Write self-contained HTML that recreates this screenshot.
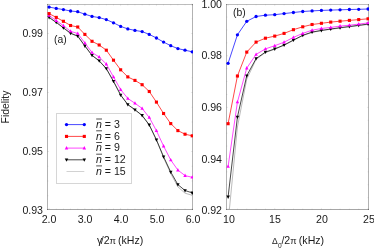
<!DOCTYPE html>
<html><head><meta charset="utf-8"><title>Fidelity</title>
<style>
html,body{margin:0;padding:0;background:#fff;}
body{width:374px;height:249px;position:relative;overflow:hidden;font-family:"Liberation Sans",sans-serif;font-size:10.6px;color:#1a1a1a;}
.t{will-change:transform;position:absolute;white-space:nowrap;line-height:12px;height:12px;}
.r{text-align:right;}
.c{text-align:center;}
i{font-style:italic;}
</style></head><body>
<svg width="374" height="249" viewBox="0 0 374 249" style="position:absolute;left:0;top:0">
<defs><clipPath id="ca"><rect x="47" y="4" width="146" height="206"/></clipPath><clipPath id="cb"><rect x="226" y="4" width="143" height="206"/></clipPath></defs>
<path d="M47.5 4.0V210.0M192.5 4.0V210.0" stroke="#000" stroke-opacity="0.3" stroke-width="1" fill="none"/><path d="M47.0 4.5H193.0" stroke="#000" stroke-opacity="0.26" stroke-width="1" fill="none"/><path d="M47.0 209.5H193.0" stroke="#000" stroke-opacity="0.35" stroke-width="1" fill="none"/>
<path d="M226.5 4.0V210.0M368.5 4.0V210.0" stroke="#000" stroke-opacity="0.3" stroke-width="1" fill="none"/><path d="M226.0 4.5H369.0" stroke="#000" stroke-opacity="0.26" stroke-width="1" fill="none"/><path d="M226.0 209.5H369.0" stroke="#000" stroke-opacity="0.35" stroke-width="1" fill="none"/>
<g stroke="#000" stroke-width="0.6" fill="none" opacity="0.13"><path d="M49.10 209.50v-1.60M49.10 4.50v1.60"/><path d="M56.26 209.50v-1.00M56.26 4.50v1.00"/><path d="M63.41 209.50v-1.00M63.41 4.50v1.00"/><path d="M70.56 209.50v-1.00M70.56 4.50v1.00"/><path d="M77.72 209.50v-1.00M77.72 4.50v1.00"/><path d="M84.88 209.50v-1.60M84.88 4.50v1.60"/><path d="M92.03 209.50v-1.00M92.03 4.50v1.00"/><path d="M99.19 209.50v-1.00M99.19 4.50v1.00"/><path d="M106.34 209.50v-1.00M106.34 4.50v1.00"/><path d="M113.50 209.50v-1.00M113.50 4.50v1.00"/><path d="M120.65 209.50v-1.60M120.65 4.50v1.60"/><path d="M127.81 209.50v-1.00M127.81 4.50v1.00"/><path d="M134.96 209.50v-1.00M134.96 4.50v1.00"/><path d="M142.12 209.50v-1.00M142.12 4.50v1.00"/><path d="M149.27 209.50v-1.00M149.27 4.50v1.00"/><path d="M156.43 209.50v-1.60M156.43 4.50v1.60"/><path d="M163.58 209.50v-1.00M163.58 4.50v1.00"/><path d="M170.74 209.50v-1.00M170.74 4.50v1.00"/><path d="M177.89 209.50v-1.00M177.89 4.50v1.00"/><path d="M185.04 209.50v-1.00M185.04 4.50v1.00"/><path d="M192.20 209.50v-1.60M192.20 4.50v1.60"/><path d="M47.50 195.75h1.00M192.50 195.75h-1.00"/><path d="M47.50 181.00h1.00M192.50 181.00h-1.00"/><path d="M47.50 166.25h1.00M192.50 166.25h-1.00"/><path d="M47.50 151.50h1.60M192.50 151.50h-1.60"/><path d="M47.50 136.75h1.00M192.50 136.75h-1.00"/><path d="M47.50 122.00h1.00M192.50 122.00h-1.00"/><path d="M47.50 107.25h1.00M192.50 107.25h-1.00"/><path d="M47.50 92.50h1.60M192.50 92.50h-1.60"/><path d="M47.50 77.75h1.00M192.50 77.75h-1.00"/><path d="M47.50 63.00h1.00M192.50 63.00h-1.00"/><path d="M47.50 48.25h1.00M192.50 48.25h-1.00"/><path d="M47.50 33.50h1.60M192.50 33.50h-1.60"/><path d="M47.50 18.75h1.00M192.50 18.75h-1.00"/><path d="M47.50 4.00h1.00M192.50 4.00h-1.00"/><path d="M228.10 209.50v-1.60M228.10 4.50v1.60"/><path d="M237.43 209.50v-1.00M237.43 4.50v1.00"/><path d="M246.76 209.50v-1.00M246.76 4.50v1.00"/><path d="M256.09 209.50v-1.00M256.09 4.50v1.00"/><path d="M265.42 209.50v-1.00M265.42 4.50v1.00"/><path d="M274.75 209.50v-1.60M274.75 4.50v1.60"/><path d="M284.08 209.50v-1.00M284.08 4.50v1.00"/><path d="M293.41 209.50v-1.00M293.41 4.50v1.00"/><path d="M302.74 209.50v-1.00M302.74 4.50v1.00"/><path d="M312.07 209.50v-1.00M312.07 4.50v1.00"/><path d="M321.40 209.50v-1.60M321.40 4.50v1.60"/><path d="M330.73 209.50v-1.00M330.73 4.50v1.00"/><path d="M340.06 209.50v-1.00M340.06 4.50v1.00"/><path d="M349.39 209.50v-1.00M349.39 4.50v1.00"/><path d="M358.72 209.50v-1.00M358.72 4.50v1.00"/><path d="M368.05 209.50v-1.60M368.05 4.50v1.60"/><path d="M226.50 197.65h1.00M368.50 197.65h-1.00"/><path d="M226.50 184.75h1.00M368.50 184.75h-1.00"/><path d="M226.50 171.85h1.00M368.50 171.85h-1.00"/><path d="M226.50 158.95h1.60M368.50 158.95h-1.60"/><path d="M226.50 146.05h1.00M368.50 146.05h-1.00"/><path d="M226.50 133.15h1.00M368.50 133.15h-1.00"/><path d="M226.50 120.25h1.00M368.50 120.25h-1.00"/><path d="M226.50 107.35h1.60M368.50 107.35h-1.60"/><path d="M226.50 94.45h1.00M368.50 94.45h-1.00"/><path d="M226.50 81.55h1.00M368.50 81.55h-1.00"/><path d="M226.50 68.65h1.00M368.50 68.65h-1.00"/><path d="M226.50 55.75h1.60M368.50 55.75h-1.60"/><path d="M226.50 42.85h1.00M368.50 42.85h-1.00"/><path d="M226.50 29.95h1.00M368.50 29.95h-1.00"/><path d="M226.50 17.05h1.00M368.50 17.05h-1.00"/></g>
<g clip-path="url(#ca)"><polyline fill="none" stroke="#a0a0a0" stroke-width="0.72" points="49.10,17.65 56.26,22.55 63.41,28.05 70.56,33.45 77.72,36.35 84.88,46.15 92.03,55.55 99.19,61.05 106.34,68.85 113.50,81.55 120.65,95.25 127.81,104.75 134.96,109.95 142.12,115.65 149.27,125.15 156.43,140.05 163.58,157.70 170.74,173.60 177.89,186.80 185.04,193.20 192.20,195.30"/><polyline fill="none" stroke="#000000" stroke-width="0.72" points="49.10,17.40 56.26,22.30 63.41,27.80 70.56,33.20 77.72,36.10 84.88,45.90 92.03,55.30 99.19,60.80 106.34,68.60 113.50,81.30 120.65,95.00 127.81,104.50 134.96,109.70 142.12,115.40 149.27,124.90 156.43,139.80 163.58,156.80 170.74,172.00 177.89,184.60 185.04,190.50 192.20,192.90"/><path d="M49.10 19.41L47.35 16.09L50.85 16.09Z" fill="#000000"/><path d="M56.26 24.31L54.51 20.99L58.01 20.99Z" fill="#000000"/><path d="M63.41 29.81L61.66 26.49L65.16 26.49Z" fill="#000000"/><path d="M70.56 35.21L68.81 31.89L72.31 31.89Z" fill="#000000"/><path d="M77.72 38.11L75.97 34.79L79.47 34.79Z" fill="#000000"/><path d="M84.88 47.91L83.12 44.59L86.62 44.59Z" fill="#000000"/><path d="M92.03 57.31L90.28 53.99L93.78 53.99Z" fill="#000000"/><path d="M99.19 62.81L97.44 59.49L100.94 59.49Z" fill="#000000"/><path d="M106.34 70.61L104.59 67.29L108.09 67.29Z" fill="#000000"/><path d="M113.50 83.31L111.75 79.99L115.25 79.99Z" fill="#000000"/><path d="M120.65 97.01L118.90 93.69L122.40 93.69Z" fill="#000000"/><path d="M127.81 106.51L126.06 103.19L129.56 103.19Z" fill="#000000"/><path d="M134.96 111.71L133.21 108.39L136.71 108.39Z" fill="#000000"/><path d="M142.12 117.41L140.37 114.09L143.87 114.09Z" fill="#000000"/><path d="M149.27 126.91L147.52 123.59L151.02 123.59Z" fill="#000000"/><path d="M156.43 141.81L154.68 138.49L158.18 138.49Z" fill="#000000"/><path d="M163.58 158.81L161.83 155.49L165.33 155.49Z" fill="#000000"/><path d="M170.74 174.01L168.99 170.69L172.49 170.69Z" fill="#000000"/><path d="M177.89 186.61L176.14 183.29L179.64 183.29Z" fill="#000000"/><path d="M185.04 192.51L183.29 189.19L186.79 189.19Z" fill="#000000"/><path d="M192.20 194.91L190.45 191.59L193.95 191.59Z" fill="#000000"/><polyline fill="none" stroke="#ff00ff" stroke-width="0.72" points="49.10,15.50 56.26,20.60 63.41,25.70 70.56,31.30 77.72,33.50 84.88,43.00 92.03,52.50 99.19,57.00 106.34,64.10 113.50,76.90 120.65,89.60 127.81,98.40 134.96,103.30 142.12,108.40 149.27,117.50 156.43,130.70 163.58,146.10 170.74,160.00 177.89,170.10 185.04,175.60 192.20,177.30"/><path d="M49.10 13.49L47.35 16.81L50.85 16.81Z" fill="#ff00ff"/><path d="M56.26 18.59L54.51 21.91L58.01 21.91Z" fill="#ff00ff"/><path d="M63.41 23.69L61.66 27.01L65.16 27.01Z" fill="#ff00ff"/><path d="M70.56 29.29L68.81 32.61L72.31 32.61Z" fill="#ff00ff"/><path d="M77.72 31.49L75.97 34.81L79.47 34.81Z" fill="#ff00ff"/><path d="M84.88 40.99L83.12 44.31L86.62 44.31Z" fill="#ff00ff"/><path d="M92.03 50.49L90.28 53.81L93.78 53.81Z" fill="#ff00ff"/><path d="M99.19 54.99L97.44 58.31L100.94 58.31Z" fill="#ff00ff"/><path d="M106.34 62.09L104.59 65.41L108.09 65.41Z" fill="#ff00ff"/><path d="M113.50 74.89L111.75 78.21L115.25 78.21Z" fill="#ff00ff"/><path d="M120.65 87.59L118.90 90.91L122.40 90.91Z" fill="#ff00ff"/><path d="M127.81 96.39L126.06 99.71L129.56 99.71Z" fill="#ff00ff"/><path d="M134.96 101.29L133.21 104.61L136.71 104.61Z" fill="#ff00ff"/><path d="M142.12 106.39L140.37 109.71L143.87 109.71Z" fill="#ff00ff"/><path d="M149.27 115.49L147.52 118.81L151.02 118.81Z" fill="#ff00ff"/><path d="M156.43 128.69L154.68 132.01L158.18 132.01Z" fill="#ff00ff"/><path d="M163.58 144.09L161.83 147.41L165.33 147.41Z" fill="#ff00ff"/><path d="M170.74 157.99L168.99 161.31L172.49 161.31Z" fill="#ff00ff"/><path d="M177.89 168.09L176.14 171.41L179.64 171.41Z" fill="#ff00ff"/><path d="M185.04 173.59L183.29 176.91L186.79 176.91Z" fill="#ff00ff"/><path d="M192.20 175.29L190.45 178.61L193.95 178.61Z" fill="#ff00ff"/><polyline fill="none" stroke="#ff0000" stroke-width="0.72" points="49.10,13.60 56.26,17.40 63.41,21.30 70.56,25.50 77.72,27.00 84.88,34.40 92.03,41.30 99.19,45.00 106.34,50.20 113.50,60.20 120.65,69.80 127.81,76.90 134.96,80.40 142.12,84.70 149.27,91.50 156.43,102.10 163.58,113.50 170.74,123.60 177.89,130.60 185.04,134.20 192.20,135.80"/><rect x="47.55" y="12.05" width="3.10" height="3.10" fill="#ff0000"/><rect x="54.71" y="15.85" width="3.10" height="3.10" fill="#ff0000"/><rect x="61.86" y="19.75" width="3.10" height="3.10" fill="#ff0000"/><rect x="69.02" y="23.95" width="3.10" height="3.10" fill="#ff0000"/><rect x="76.17" y="25.45" width="3.10" height="3.10" fill="#ff0000"/><rect x="83.33" y="32.85" width="3.10" height="3.10" fill="#ff0000"/><rect x="90.48" y="39.75" width="3.10" height="3.10" fill="#ff0000"/><rect x="97.64" y="43.45" width="3.10" height="3.10" fill="#ff0000"/><rect x="104.79" y="48.65" width="3.10" height="3.10" fill="#ff0000"/><rect x="111.95" y="58.65" width="3.10" height="3.10" fill="#ff0000"/><rect x="119.10" y="68.25" width="3.10" height="3.10" fill="#ff0000"/><rect x="126.26" y="75.35" width="3.10" height="3.10" fill="#ff0000"/><rect x="133.41" y="78.85" width="3.10" height="3.10" fill="#ff0000"/><rect x="140.56" y="83.15" width="3.10" height="3.10" fill="#ff0000"/><rect x="147.72" y="89.95" width="3.10" height="3.10" fill="#ff0000"/><rect x="154.88" y="100.55" width="3.10" height="3.10" fill="#ff0000"/><rect x="162.03" y="111.95" width="3.10" height="3.10" fill="#ff0000"/><rect x="169.19" y="122.05" width="3.10" height="3.10" fill="#ff0000"/><rect x="176.34" y="129.05" width="3.10" height="3.10" fill="#ff0000"/><rect x="183.49" y="132.65" width="3.10" height="3.10" fill="#ff0000"/><rect x="190.65" y="134.25" width="3.10" height="3.10" fill="#ff0000"/><polyline fill="none" stroke="#0000ff" stroke-width="0.72" points="49.10,7.10 56.26,8.40 63.41,9.60 70.56,11.00 77.72,11.70 84.88,14.20 92.03,16.40 99.19,17.60 106.34,19.60 113.50,22.80 120.65,26.40 127.81,28.90 134.96,30.40 142.12,31.60 149.27,34.40 156.43,38.00 163.58,42.10 170.74,45.70 177.89,48.60 185.04,50.20 192.20,51.80"/><circle cx="49.10" cy="7.10" r="1.65" fill="#0000ff"/><circle cx="56.26" cy="8.40" r="1.65" fill="#0000ff"/><circle cx="63.41" cy="9.60" r="1.65" fill="#0000ff"/><circle cx="70.56" cy="11.00" r="1.65" fill="#0000ff"/><circle cx="77.72" cy="11.70" r="1.65" fill="#0000ff"/><circle cx="84.88" cy="14.20" r="1.65" fill="#0000ff"/><circle cx="92.03" cy="16.40" r="1.65" fill="#0000ff"/><circle cx="99.19" cy="17.60" r="1.65" fill="#0000ff"/><circle cx="106.34" cy="19.60" r="1.65" fill="#0000ff"/><circle cx="113.50" cy="22.80" r="1.65" fill="#0000ff"/><circle cx="120.65" cy="26.40" r="1.65" fill="#0000ff"/><circle cx="127.81" cy="28.90" r="1.65" fill="#0000ff"/><circle cx="134.96" cy="30.40" r="1.65" fill="#0000ff"/><circle cx="142.12" cy="31.60" r="1.65" fill="#0000ff"/><circle cx="149.27" cy="34.40" r="1.65" fill="#0000ff"/><circle cx="156.43" cy="38.00" r="1.65" fill="#0000ff"/><circle cx="163.58" cy="42.10" r="1.65" fill="#0000ff"/><circle cx="170.74" cy="45.70" r="1.65" fill="#0000ff"/><circle cx="177.89" cy="48.60" r="1.65" fill="#0000ff"/><circle cx="185.04" cy="50.20" r="1.65" fill="#0000ff"/><circle cx="192.20" cy="51.80" r="1.65" fill="#0000ff"/></g>
<g clip-path="url(#cb)"><polyline fill="none" stroke="#a0a0a0" stroke-width="0.72" points="228.10,222.50 237.43,127.00 246.76,79.20 256.09,59.40 265.42,52.60 274.75,49.20 284.08,45.30 293.41,40.40 302.74,35.60 312.07,32.40 321.40,30.70 330.73,29.30 340.06,28.00 349.39,26.80 358.72,25.60 368.05,24.40"/><polyline fill="none" stroke="#000000" stroke-width="0.72" points="228.10,196.90 237.43,117.00 246.76,75.70 256.09,58.60 265.42,52.10 274.75,48.90 284.08,45.00 293.41,40.10 302.74,35.30 312.07,32.10 321.40,30.40 330.73,29.00 340.06,27.70 349.39,26.50 358.72,25.30 368.05,24.10"/><path d="M228.10 198.91L226.35 195.59L229.85 195.59Z" fill="#000000"/><path d="M237.43 119.01L235.68 115.69L239.18 115.69Z" fill="#000000"/><path d="M246.76 77.71L245.01 74.39L248.51 74.39Z" fill="#000000"/><path d="M256.09 60.61L254.34 57.29L257.84 57.29Z" fill="#000000"/><path d="M265.42 54.11L263.67 50.79L267.17 50.79Z" fill="#000000"/><path d="M274.75 50.91L273.00 47.59L276.50 47.59Z" fill="#000000"/><path d="M284.08 47.01L282.33 43.69L285.83 43.69Z" fill="#000000"/><path d="M293.41 42.11L291.66 38.79L295.16 38.79Z" fill="#000000"/><path d="M302.74 37.31L300.99 33.99L304.49 33.99Z" fill="#000000"/><path d="M312.07 34.11L310.32 30.79L313.82 30.79Z" fill="#000000"/><path d="M321.40 32.41L319.65 29.09L323.15 29.09Z" fill="#000000"/><path d="M330.73 31.01L328.98 27.69L332.48 27.69Z" fill="#000000"/><path d="M340.06 29.71L338.31 26.39L341.81 26.39Z" fill="#000000"/><path d="M349.39 28.51L347.64 25.19L351.14 25.19Z" fill="#000000"/><path d="M358.72 27.31L356.97 23.99L360.47 23.99Z" fill="#000000"/><path d="M368.05 26.11L366.30 22.79L369.80 22.79Z" fill="#000000"/><polyline fill="none" stroke="#ff00ff" stroke-width="0.72" points="228.10,166.50 237.43,102.00 246.76,68.10 256.09,54.40 265.42,48.90 274.75,45.70 284.08,42.20 293.41,37.40 302.74,33.40 312.07,30.20 321.40,28.50 330.73,27.40 340.06,26.10 349.39,25.20 358.72,24.10 368.05,22.90"/><path d="M228.10 164.49L226.35 167.81L229.85 167.81Z" fill="#ff00ff"/><path d="M237.43 99.99L235.68 103.31L239.18 103.31Z" fill="#ff00ff"/><path d="M246.76 66.09L245.01 69.41L248.51 69.41Z" fill="#ff00ff"/><path d="M256.09 52.39L254.34 55.71L257.84 55.71Z" fill="#ff00ff"/><path d="M265.42 46.89L263.67 50.21L267.17 50.21Z" fill="#ff00ff"/><path d="M274.75 43.69L273.00 47.01L276.50 47.01Z" fill="#ff00ff"/><path d="M284.08 40.19L282.33 43.51L285.83 43.51Z" fill="#ff00ff"/><path d="M293.41 35.39L291.66 38.71L295.16 38.71Z" fill="#ff00ff"/><path d="M302.74 31.39L300.99 34.71L304.49 34.71Z" fill="#ff00ff"/><path d="M312.07 28.19L310.32 31.51L313.82 31.51Z" fill="#ff00ff"/><path d="M321.40 26.49L319.65 29.81L323.15 29.81Z" fill="#ff00ff"/><path d="M330.73 25.39L328.98 28.71L332.48 28.71Z" fill="#ff00ff"/><path d="M340.06 24.09L338.31 27.41L341.81 27.41Z" fill="#ff00ff"/><path d="M349.39 23.19L347.64 26.51L351.14 26.51Z" fill="#ff00ff"/><path d="M358.72 22.09L356.97 25.41L360.47 25.41Z" fill="#ff00ff"/><path d="M368.05 20.89L366.30 24.21L369.80 24.21Z" fill="#ff00ff"/><polyline fill="none" stroke="#ff0000" stroke-width="0.72" points="228.10,123.70 237.43,76.00 246.76,52.10 256.09,42.10 265.42,38.20 274.75,36.10 284.08,33.40 293.41,29.70 302.74,26.80 312.07,24.50 321.40,23.30 330.73,22.10 340.06,21.20 349.39,20.40 358.72,19.60 368.05,18.80"/><rect x="226.55" y="122.15" width="3.10" height="3.10" fill="#ff0000"/><rect x="235.88" y="74.45" width="3.10" height="3.10" fill="#ff0000"/><rect x="245.21" y="50.55" width="3.10" height="3.10" fill="#ff0000"/><rect x="254.54" y="40.55" width="3.10" height="3.10" fill="#ff0000"/><rect x="263.87" y="36.65" width="3.10" height="3.10" fill="#ff0000"/><rect x="273.20" y="34.55" width="3.10" height="3.10" fill="#ff0000"/><rect x="282.53" y="31.85" width="3.10" height="3.10" fill="#ff0000"/><rect x="291.86" y="28.15" width="3.10" height="3.10" fill="#ff0000"/><rect x="301.19" y="25.25" width="3.10" height="3.10" fill="#ff0000"/><rect x="310.52" y="22.95" width="3.10" height="3.10" fill="#ff0000"/><rect x="319.85" y="21.75" width="3.10" height="3.10" fill="#ff0000"/><rect x="329.18" y="20.55" width="3.10" height="3.10" fill="#ff0000"/><rect x="338.51" y="19.65" width="3.10" height="3.10" fill="#ff0000"/><rect x="347.84" y="18.85" width="3.10" height="3.10" fill="#ff0000"/><rect x="357.17" y="18.05" width="3.10" height="3.10" fill="#ff0000"/><rect x="366.50" y="17.25" width="3.10" height="3.10" fill="#ff0000"/><polyline fill="none" stroke="#0000ff" stroke-width="0.72" points="228.10,63.30 237.43,34.80 246.76,21.30 256.09,16.50 265.42,15.20 274.75,14.70 284.08,13.60 293.41,12.50 302.74,11.50 312.07,10.90 321.40,10.40 330.73,10.10 340.06,9.80 349.39,9.50 358.72,9.30 368.05,9.00"/><circle cx="228.10" cy="63.30" r="1.65" fill="#0000ff"/><circle cx="237.43" cy="34.80" r="1.65" fill="#0000ff"/><circle cx="246.76" cy="21.30" r="1.65" fill="#0000ff"/><circle cx="256.09" cy="16.50" r="1.65" fill="#0000ff"/><circle cx="265.42" cy="15.20" r="1.65" fill="#0000ff"/><circle cx="274.75" cy="14.70" r="1.65" fill="#0000ff"/><circle cx="284.08" cy="13.60" r="1.65" fill="#0000ff"/><circle cx="293.41" cy="12.50" r="1.65" fill="#0000ff"/><circle cx="302.74" cy="11.50" r="1.65" fill="#0000ff"/><circle cx="312.07" cy="10.90" r="1.65" fill="#0000ff"/><circle cx="321.40" cy="10.40" r="1.65" fill="#0000ff"/><circle cx="330.73" cy="10.10" r="1.65" fill="#0000ff"/><circle cx="340.06" cy="9.80" r="1.65" fill="#0000ff"/><circle cx="349.39" cy="9.50" r="1.65" fill="#0000ff"/><circle cx="358.72" cy="9.30" r="1.65" fill="#0000ff"/><circle cx="368.05" cy="9.00" r="1.65" fill="#0000ff"/></g>
<rect x="56.5" y="113.5" width="75" height="70" fill="#ffffff" stroke="#d6d6d6" stroke-width="1"/>
<polyline fill="none" stroke="#0000ff" stroke-width="0.72" points="66.50,124.60 84.30,124.60"/><circle cx="66.50" cy="124.60" r="1.65" fill="#0000ff"/><circle cx="84.30" cy="124.60" r="1.65" fill="#0000ff"/><polyline fill="none" stroke="#ff0000" stroke-width="0.72" points="66.50,136.40 84.30,136.40"/><rect x="64.95" y="134.85" width="3.10" height="3.10" fill="#ff0000"/><rect x="82.75" y="134.85" width="3.10" height="3.10" fill="#ff0000"/><polyline fill="none" stroke="#ff00ff" stroke-width="0.72" points="66.50,148.10 84.30,148.10"/><path d="M66.50 146.09L64.75 149.41L68.25 149.41Z" fill="#ff00ff"/><path d="M84.30 146.09L82.55 149.41L86.05 149.41Z" fill="#ff00ff"/><polyline fill="none" stroke="#000000" stroke-width="0.72" points="66.50,159.80 84.30,159.80"/><path d="M66.50 161.81L64.75 158.49L68.25 158.49Z" fill="#000000"/><path d="M84.30 161.81L82.55 158.49L86.05 158.49Z" fill="#000000"/><polyline fill="none" stroke="#c0c0c0" stroke-width="0.72" points="66.50,171.50 84.30,171.50"/>
<path d="M96.2 119.00h5.8" stroke="#222" stroke-width="0.8"/>
<path d="M96.2 130.80h5.8" stroke="#222" stroke-width="0.8"/>
<path d="M96.2 142.50h5.8" stroke="#222" stroke-width="0.8"/>
<path d="M96.2 154.20h5.8" stroke="#222" stroke-width="0.8"/>
<path d="M96.2 165.90h5.8" stroke="#222" stroke-width="0.8"/>
</svg><div class="t r" style="top:27.18px;left:3.25px;width:40.00px;">0.99</div>
<div class="t r" style="top:86.18px;left:3.25px;width:40.00px;">0.97</div>
<div class="t r" style="top:145.18px;left:3.25px;width:40.00px;">0.95</div>
<div class="t r" style="top:204.03px;left:3.25px;width:40.00px;">0.93</div>
<div class="t r" style="top:-2.17px;left:182.45px;width:40.00px;">1.00</div>
<div class="t r" style="top:49.33px;left:182.45px;width:40.00px;">0.98</div>
<div class="t r" style="top:101.13px;left:182.45px;width:40.00px;">0.96</div>
<div class="t r" style="top:152.53px;left:182.45px;width:40.00px;">0.94</div>
<div class="t r" style="top:203.98px;left:182.45px;width:40.00px;">0.92</div>
<div class="t c" style="top:213.13px;left:19.40px;width:60.00px;">2.0</div>
<div class="t c" style="top:213.13px;left:55.17px;width:60.00px;">3.0</div>
<div class="t c" style="top:213.13px;left:90.95px;width:60.00px;">4.0</div>
<div class="t c" style="top:213.13px;left:126.72px;width:60.00px;">5.0</div>
<div class="t c" style="top:213.13px;left:162.50px;width:60.00px;">6.0</div>
<div class="t c" style="top:213.13px;left:198.70px;width:60.00px;">10</div>
<div class="t c" style="top:213.13px;left:245.35px;width:60.00px;">15</div>
<div class="t c" style="top:213.13px;left:292.00px;width:60.00px;">20</div>
<div class="t c" style="top:213.13px;left:338.65px;width:60.00px;">25</div>
<div class="t " style="top:34.43px;left:53.90px;font-size:10.4px;">(a)</div>
<div class="t " style="top:7.33px;left:232.60px;font-size:10.4px;">(b)</div>
<div class="t " style="top:233.83px;left:97.40px;"><span id="ga" style="margin-right:-1.6px">&gamma;</span>/2<span id="pa" style="font-size:9.3px;margin-right:-0.9px">&pi;</span> (kHz)</div>
<div class="t " style="top:233.73px;left:272.20px;"><span id="db" style="font-size:8.6px">&Delta;</span><span style="font-size:7.8px;position:relative;top:3.5px;margin-left:0.2px;margin-right:-0.9px;display:inline-block;transform:scaleX(0.85);transform-origin:0 0">0</span>/2<span id="pb" style="font-size:9.3px;margin-right:-0.8px">&pi;</span> (kHz)</div>
<div class="t " style="top:117.83px;left:96.30px;"><i>n</i> = 3</div>
<div class="t " style="top:129.63px;left:96.30px;"><i>n</i> = 6</div>
<div class="t " style="top:141.33px;left:96.30px;"><i>n</i> = 9</div>
<div class="t " style="top:153.03px;left:96.30px;"><i>n</i> = 12</div>
<div class="t " style="top:164.73px;left:96.30px;"><i>n</i> = 15</div>
<div class="t" style="left:-24.0px;top:101.1px;width:60px;text-align:center;font-size:10.4px;transform:rotate(-90deg);transform-origin:50% 50%;">Fidelity</div>
</body></html>
